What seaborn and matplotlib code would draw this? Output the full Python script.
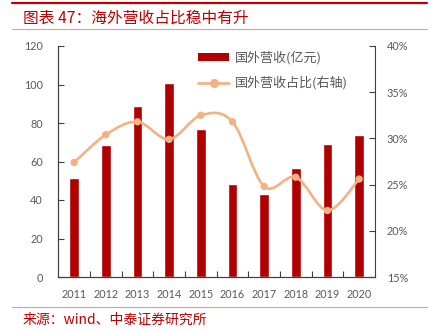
import numpy as np
import pandas as pd
import matplotlib
matplotlib.use("Agg")
import matplotlib.pyplot as plt
from matplotlib.path import Path
from matplotlib.patches import PathPatch, Patch
from matplotlib.lines import Line2D
import seaborn as sns

years = ["2011", "2012", "2013", "2014", "2015", "2016", "2017", "2018", "2019", "2020"]
overseas_revenue = [51.5, 68.6, 88.8, 100.8, 76.9, 48.2, 43.1, 56.5, 69.1, 73.9]
overseas_share = [27.4, 30.4, 31.8, 29.9, 32.5, 31.8, 24.8, 25.8, 22.2, 25.6]
left_ticks = [0, 20, 40, 60, 80, 100, 120]
right_ticks = [15, 20, 25, 30, 35, 40]
bar_label = "国外营收(亿元)"
line_label = "国外营收占比(右轴)"
title = "图表 47：海外营收占比稳中有升"
source = "来源：wind、中泰证券研究所"

sns.set_theme(style="white")
plt.rcParams["font.family"] = ["Lato", "Noto Sans CJK SC", "DejaVu Sans"]

BAR = "#B00000"
LINE = "#F4B183"
GRAY = "#595959"
SPINE = "#404040"
RED = "#C00000"
CJK = ["Noto Sans CJK SC", "DejaVu Sans"]

fig = plt.figure(figsize=(4.32, 3.31), dpi=100)
ax = fig.add_axes([58.3 / 432, 1 - 277 / 331, (375 - 58.3) / 432, (277 - 46) / 331])

df = pd.DataFrame({"year": years, "rev": overseas_revenue, "share": overseas_share})
sns.barplot(data=df, x="year", y="rev", ax=ax, color=BAR, width=0.31, saturation=1)
ax.set_xlim(-0.5, len(years) - 0.5)
ax.set_ylim(0, 120)
ax.set_yticks(left_ticks)
ax.set_xlabel("")
ax.set_ylabel("")

ax2 = ax.twinx()
ax2.set_ylim(15, 40)
ax2.set_yticks(right_ticks)
ax2.set_yticklabels([f"{t}%" for t in right_ticks])

# smooth (Excel-style) line through the data points
xs = np.arange(len(years), dtype=float)
ys = np.array(overseas_share, dtype=float)
pts = np.column_stack([xs, ys])
verts = [tuple(pts[0])]
codes = [Path.MOVETO]
n = len(pts)
for i in range(n - 1):
    p0 = pts[i - 1] if i > 0 else pts[i]
    p1 = pts[i]
    p2 = pts[i + 1]
    p3 = pts[i + 2] if i + 2 < n else pts[i + 1]
    c1 = p1 + (p2 - p0) / 6.0
    c2 = p2 - (p3 - p1) / 6.0
    verts += [tuple(c1), tuple(c2), tuple(p2)]
    codes += [Path.CURVE4] * 3
ax2.add_patch(PathPatch(Path(verts, codes), facecolor="none", edgecolor=LINE,
                        lw=1.9, capstyle="round", joinstyle="round", zorder=3))
sns.scatterplot(x=xs, y=ys, ax=ax2, color=LINE, s=28, edgecolor="none", zorder=4, legend=False)
ax2.set_ylabel("")

for a in (ax, ax2):
    for s in a.spines.values():
        s.set_color(SPINE)
        s.set_linewidth(0.8)
    a.spines["top"].set_visible(False)
    a.grid(False)
ax.spines["right"].set_visible(False)

ax.tick_params(axis="y", direction="in", length=4, width=0.8, color=SPINE,
               labelcolor=GRAY, labelsize=7.8, pad=11, left=True)
ax2.tick_params(axis="y", direction="in", length=4, width=0.8, color=SPINE,
                labelcolor=GRAY, labelsize=7.8, pad=8.4, right=True)
ax.tick_params(axis="x", length=0, labelcolor=GRAY, labelsize=7.8, pad=9)
ax.set_xticks(np.arange(0.5, len(years) - 1, 1.0), minor=True)
ax.tick_params(axis="x", which="minor", direction="in", length=4, width=0.8,
               color=SPINE, bottom=True)

handles = [Patch(facecolor=BAR, edgecolor="none"),
           Line2D([], [], color=LINE, lw=1.9, marker="o", markersize=5.5)]
leg = fig.legend(handles, [bar_label, line_label], loc="upper left",
                 bbox_to_anchor=(198 / 432, 1 - 51 / 331), frameon=False,
                 borderpad=0, borderaxespad=0, handlelength=2.4, handleheight=0.5,
                 handletextpad=0.4, labelspacing=0.85,
                 prop={"family": CJK, "size": 9.4})
for t in leg.get_texts():
    t.set_color(GRAY)

fig.text(23 / 432, 1 - 18 / 331, title, color=RED, fontsize=11.3, family=CJK,
         ha="left", va="center")
fig.text(22.7 / 432, 1 - 320 / 331, source, color=RED, fontsize=10, family=CJK,
         ha="left", va="center")
fig.add_artist(Line2D([12 / 432, 427 / 432], [1 - 3 / 331] * 2, color=RED, lw=1.6,
                      transform=fig.transFigure))
fig.add_artist(Line2D([12 / 432, 427 / 432], [1 - 29 / 331] * 2, color="#E39A9A", lw=0.8,
                      transform=fig.transFigure))
fig.add_artist(Line2D([12 / 432, 427 / 432], [1 - 306.7 / 331] * 2, color="#E39A9A", lw=0.8,
                      transform=fig.transFigure))

fig.savefig("out.png", dpi=100)
